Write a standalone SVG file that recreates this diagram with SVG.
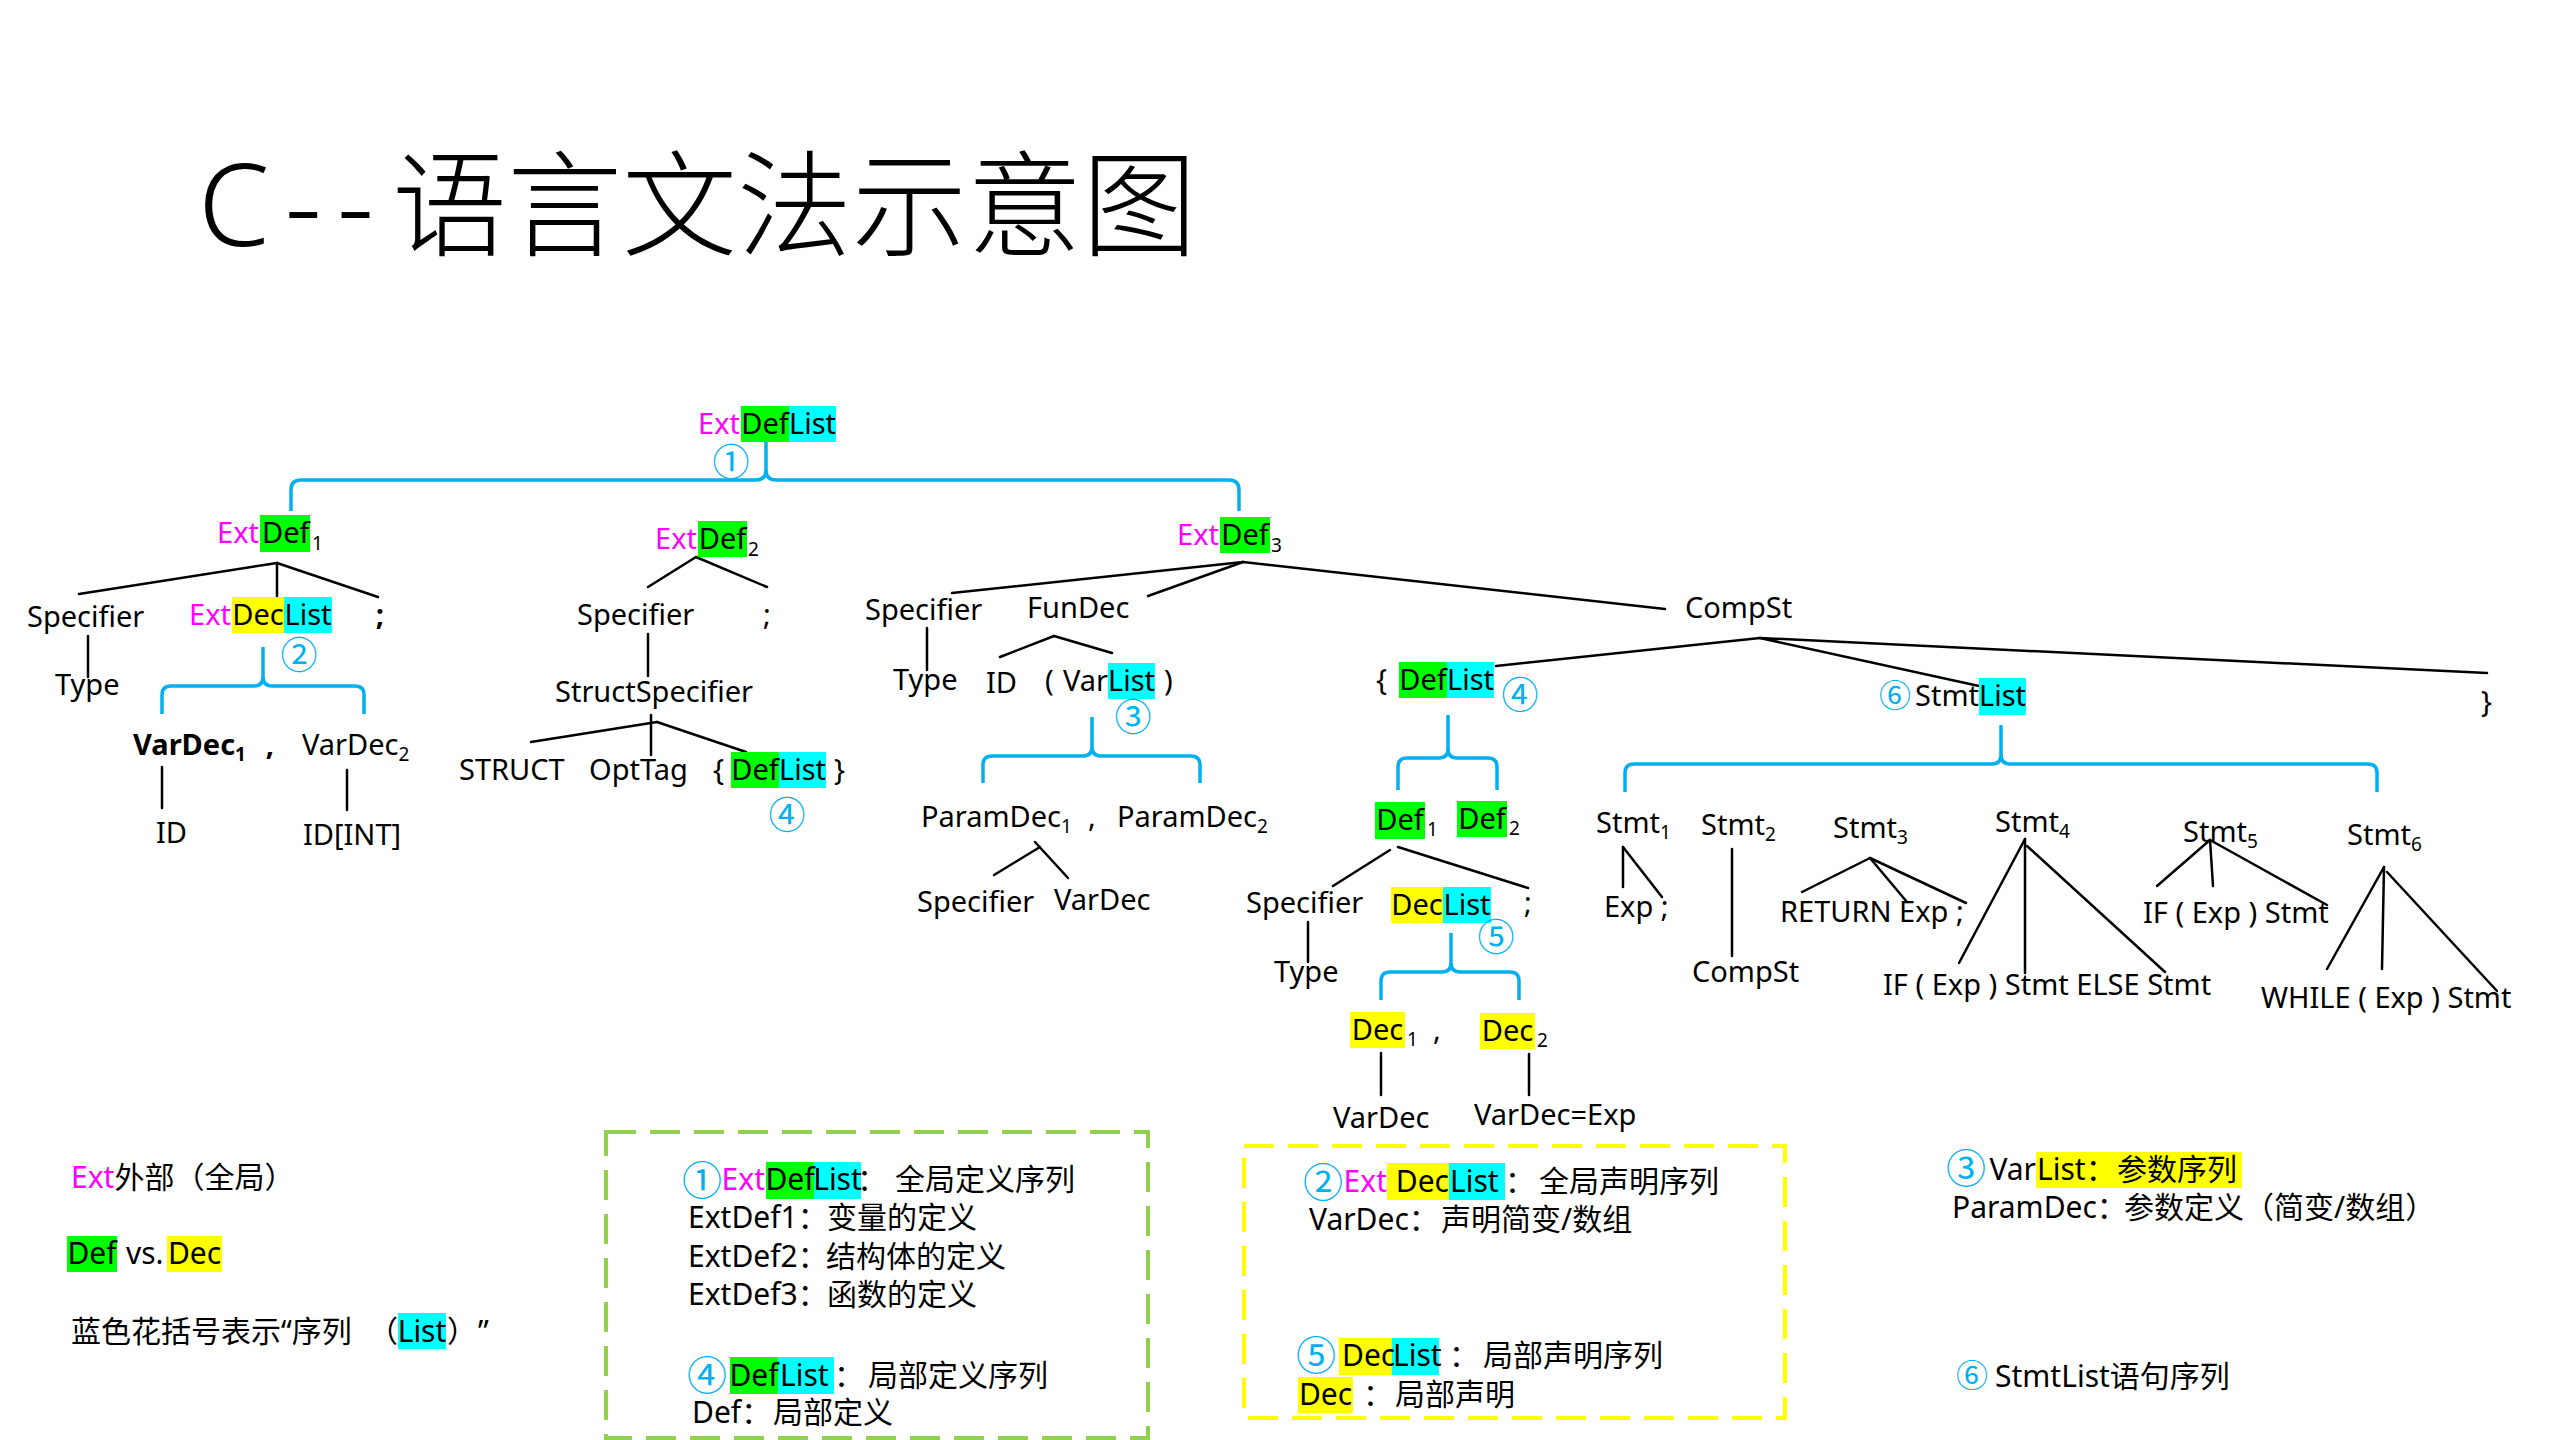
<svg xmlns="http://www.w3.org/2000/svg" width="2560" height="1440" viewBox="0 0 2560 1440">
  <style>
    .t { font-family: "Noto Sans", "Noto Sans CJK SC", sans-serif; font-size: 29px; fill: #000; }
    .lg { font-size: 30px; }
    .b { font-weight: bold; }
    .m { fill: #FF00FF; }
    .n { fill: #00B0F0; font-family: "Noto Sans CJK SC", sans-serif; font-size: 37px; text-anchor: middle; }
    .nl { font-size: 40px; }
    .n6 { font-size: 32px; }
    .s { font-size: 19px; }
    .mid { text-anchor: middle; }
    .end { text-anchor: end; }
    .hg { fill: #00FF00; }
    .hc { fill: #00FFFF; }
    .hy { fill: #FFFF00; }
    .ln line { stroke: #000; stroke-width: 2.5; stroke-linecap: round; }
    .br { fill: none; stroke: #00B0F0; stroke-width: 3.5; }
    .box { fill: none; stroke-width: 4; stroke-dasharray: 30 14; }
  </style>

  <rect width="2560" height="1440" fill="#FFFFFF"/>

  <!-- title -->
  <g id="title" font-family="'Noto Sans', 'Noto Sans CJK SC', sans-serif" font-weight="300" fill="#000">
    <text x="198" y="246" font-size="115" textLength="176" lengthAdjust="spacing">C--</text>
    <text x="392" y="247" font-size="115" font-family="'Noto Sans CJK SC', sans-serif">语言文法示意图</text>
  </g>

  <!-- connectors: tree edges and list braces -->
  <g id="connectors">
    <g class="ln">
      <!-- ExtDef1 -->
      <line x1="277" y1="563" x2="79" y2="594"/>
      <line x1="277" y1="563" x2="277" y2="597"/>
      <line x1="277" y1="563" x2="378" y2="597"/>
      <line x1="88" y1="636" x2="88" y2="677"/>
      <line x1="162" y1="767" x2="162" y2="808"/>
      <line x1="347" y1="770" x2="347" y2="810"/>
      <!-- ExtDef2 -->
      <line x1="696" y1="557" x2="648" y2="587"/>
      <line x1="696" y1="557" x2="767" y2="587"/>
      <line x1="648" y1="634" x2="648" y2="676"/>
      <line x1="651" y1="715" x2="651" y2="755"/>
      <line x1="657" y1="722" x2="531" y2="742"/>
      <line x1="657" y1="722" x2="746" y2="752"/>
      <!-- ExtDef3 -->
      <line x1="1243" y1="562" x2="952" y2="593"/>
      <line x1="1243" y1="562" x2="1148" y2="596"/>
      <line x1="1243" y1="562" x2="1665" y2="609"/>
      <line x1="927" y1="628" x2="927" y2="670"/>
      <line x1="1054" y1="636" x2="1000" y2="657"/>
      <line x1="1054" y1="636" x2="1112" y2="653"/>
      <line x1="994" y1="875" x2="1040" y2="847"/>
      <line x1="1035" y1="842" x2="1068" y2="878"/>
      <!-- CompSt -->
      <line x1="1760" y1="638" x2="1496" y2="666"/>
      <line x1="1760" y1="638" x2="1979" y2="686"/>
      <line x1="1760" y1="638" x2="2487" y2="673"/>
      <!-- Def1 -->
      <line x1="1390" y1="850" x2="1333" y2="886"/>
      <line x1="1398" y1="847" x2="1528" y2="888"/>
      <line x1="1308" y1="922" x2="1308" y2="962"/>
      <line x1="1381" y1="1053" x2="1381" y2="1095"/>
      <line x1="1529" y1="1054" x2="1529" y2="1095"/>
      <!-- Stmt1..Stmt6 -->
      <line x1="1623" y1="847" x2="1623" y2="887"/>
      <line x1="1623" y1="847" x2="1662" y2="897"/>
      <line x1="1732" y1="849" x2="1732" y2="956"/>
      <line x1="1870" y1="858" x2="1802" y2="892"/>
      <line x1="1870" y1="858" x2="1907" y2="902"/>
      <line x1="1870" y1="858" x2="1966" y2="903"/>
      <line x1="2025" y1="839" x2="1959" y2="963"/>
      <line x1="2025" y1="839" x2="2025" y2="973"/>
      <line x1="2027" y1="846" x2="2165" y2="972"/>
      <line x1="2210" y1="840" x2="2157" y2="886"/>
      <line x1="2210" y1="840" x2="2213" y2="886"/>
      <line x1="2210" y1="840" x2="2327" y2="905"/>
      <line x1="2384" y1="867" x2="2327" y2="969"/>
      <line x1="2384" y1="867" x2="2382" y2="969"/>
      <line x1="2387" y1="872" x2="2497" y2="991"/>
    </g>
    <!-- list braces -->
    <path class="br" d="M291,511 V490 Q291,480 301,480 H756 Q766,480 766,470 V442 M766,470 Q766,480 776,480 H1229 Q1239,480 1239,490 V511"/>
    <path class="br" d="M162,714 V695 Q162,686 171,686 H254 Q263,686 263,677 V647 M263,677 Q263,686 272,686 H355 Q364,686 364,695 V714"/>
    <path class="br" d="M983,783 V765 Q983,756 992,756 H1083 Q1092,756 1092,747 V717 M1092,747 Q1092,756 1101,756 H1191 Q1200,756 1200,765 V783"/>
    <path class="br" d="M1398,790 V767 Q1398,758 1407,758 H1439 Q1448,758 1448,749 V715 M1448,749 Q1448,758 1457,758 H1488 Q1497,758 1497,767 V790"/>
    <path class="br" d="M1381,1000 V981 Q1381,972 1390,972 H1442 Q1451,972 1451,963 V933 M1451,963 Q1451,972 1460,972 H1510 Q1519,972 1519,981 V1000"/>
    <path class="br" d="M1625,792 V773 Q1625,764 1634,764 H1992 Q2001,764 2001,755 V725 M2001,755 Q2001,764 2010,764 H2368 Q2377,764 2377,773 V792"/>
  </g>

  <!-- root -->
  <g id="n-extdeflist">
    <rect class="hg" x="741" y="406" width="48" height="36"/>
    <rect class="hc" x="789" y="406" width="47" height="36"/>
    <text class="t m end" x="740" y="434">Ext</text>
    <text class="t mid" x="765" y="434">Def</text>
    <text class="t mid" x="812.5" y="434">List</text>
    <text class="n" x="731" y="476">①</text>
  </g>

  <!-- ExtDef1: global variable -->
  <g id="n-extdef1">
    <rect class="hg" x="260" y="515" width="50" height="37"/>
    <text class="t m end" x="259" y="543">Ext</text>
    <text class="t" x="262" y="543">Def</text>
    <text class="t s" x="312" y="550">1</text>
  </g>
  <g id="n-spec1"><text class="t" x="27" y="627">Specifier</text></g>
  <g id="n-type1"><text class="t" x="55" y="695">Type</text></g>
  <g id="n-extdeclist">
    <rect class="hy" x="232" y="597" width="52" height="36"/>
    <rect class="hc" x="284" y="597" width="48" height="36"/>
    <text class="t m end" x="231" y="625">Ext</text>
    <text class="t mid" x="258" y="625">Dec</text>
    <text class="t mid" x="308" y="625">List</text>
    <text class="n" x="299" y="669">②</text>
  </g>
  <g id="n-semi1"><text class="t b mid" x="380" y="625">;</text></g>
  <g id="n-vardec1"><text class="t b" x="133" y="755">VarDec<tspan class="s" dy="6">1</tspan></text></g>
  <g id="n-comma1"><text class="t b mid" x="270" y="755">,</text></g>
  <g id="n-vardec2"><text class="t" x="302" y="755">VarDec<tspan class="s" dy="6">2</tspan></text></g>
  <g id="n-id1"><text class="t" x="156" y="843">ID</text></g>
  <g id="n-idint"><text class="t" x="303" y="845">ID[INT]</text></g>

  <!-- ExtDef2: struct definition -->
  <g id="n-extdef2">
    <rect class="hg" x="698" y="521" width="49" height="36"/>
    <text class="t m end" x="697" y="549">Ext</text>
    <text class="t mid" x="722.5" y="549">Def</text>
    <text class="t s" x="748" y="556">2</text>
  </g>
  <g id="n-spec2"><text class="t" x="577" y="625">Specifier</text></g>
  <g id="n-semi2"><text class="t mid" x="767" y="625">;</text></g>
  <g id="n-structspec"><text class="t" x="555" y="702">StructSpecifier</text></g>
  <g id="n-struct"><text class="t" x="459" y="780">STRUCT</text></g>
  <g id="n-opttag"><text class="t" x="589" y="780">OptTag</text></g>
  <g id="n-deflist1">
    <rect class="hg" x="731" y="752" width="48" height="36"/>
    <rect class="hc" x="779" y="752" width="47" height="36"/>
    <text class="t" x="713" y="780">{</text>
    <text class="t mid" x="755" y="780">Def</text>
    <text class="t mid" x="802.5" y="780">List</text>
    <text class="t" x="834" y="780">}</text>
    <text class="n" x="787" y="829">④</text>
  </g>

  <!-- ExtDef3: function definition -->
  <g id="n-extdef3">
    <rect class="hg" x="1220" y="517" width="50" height="36"/>
    <text class="t m end" x="1219" y="545">Ext</text>
    <text class="t mid" x="1245" y="545">Def</text>
    <text class="t s" x="1271" y="552">3</text>
  </g>
  <g id="n-spec3"><text class="t" x="865" y="620">Specifier</text></g>
  <g id="n-type3"><text class="t" x="893" y="690">Type</text></g>
  <g id="n-fundec"><text class="t" x="1027" y="618">FunDec</text></g>
  <g id="n-id3"><text class="t" x="986" y="693">ID</text></g>
  <g id="n-varlist">
    <rect class="hc" x="1108" y="663" width="47" height="36"/>
    <text class="t" x="1045" y="691">(</text>
    <text class="t end" x="1108" y="691">Var</text>
    <text class="t mid" x="1131.5" y="691">List</text>
    <text class="t" x="1164" y="691">)</text>
    <text class="n" x="1133" y="731">③</text>
  </g>
  <g id="n-paramdec1"><text class="t" x="921" y="827">ParamDec<tspan class="s" dy="6">1</tspan></text></g>
  <g id="n-comma3"><text class="t mid" x="1092" y="827">,</text></g>
  <g id="n-paramdec2"><text class="t" x="1117" y="827">ParamDec<tspan class="s" dy="6">2</tspan></text></g>
  <g id="n-spec4"><text class="t" x="917" y="912">Specifier</text></g>
  <g id="n-vardec3"><text class="t" x="1054" y="910">VarDec</text></g>

  <!-- CompSt -->
  <g id="n-compst"><text class="t" x="1685" y="618">CompSt</text></g>
  <g id="n-deflist2">
    <rect class="hg" x="1399" y="662" width="48" height="36"/>
    <rect class="hc" x="1447" y="662" width="47" height="36"/>
    <text class="t" x="1376" y="690">{</text>
    <text class="t mid" x="1423" y="690">Def</text>
    <text class="t mid" x="1470.5" y="690">List</text>
    <text class="n" x="1520" y="709">④</text>
  </g>
  <g id="n-stmtlist">
    <rect class="hc" x="1979" y="678" width="47" height="37"/>
    <text class="n n6" x="1895" y="707">⑥</text>
    <text class="t end" x="1979" y="706">Stmt</text>
    <text class="t mid" x="2002.5" y="706">List</text>
  </g>
  <g id="n-rbrace"><text class="t" x="2481" y="712">}</text></g>

  <g id="n-def1">
    <rect class="hg" x="1375" y="802" width="50" height="37"/>
    <text class="t mid" x="1400" y="830">Def</text>
    <text class="t s" x="1427" y="836">1</text>
  </g>
  <g id="n-def2">
    <rect class="hg" x="1457" y="801" width="50" height="36"/>
    <text class="t mid" x="1482" y="829">Def</text>
    <text class="t s" x="1509" y="835">2</text>
  </g>
  <g id="n-spec5"><text class="t" x="1246" y="913">Specifier</text></g>
  <g id="n-type5"><text class="t" x="1274" y="982">Type</text></g>
  <g id="n-declist">
    <rect class="hy" x="1391" y="887" width="52" height="36"/>
    <rect class="hc" x="1443" y="887" width="48" height="36"/>
    <text class="t mid" x="1417" y="915">Dec</text>
    <text class="t mid" x="1467" y="915">List</text>
    <text class="n" x="1496" y="951">⑤</text>
  </g>
  <g id="n-semi5"><text class="t mid" x="1528" y="913">;</text></g>
  <g id="n-dec1">
    <rect class="hy" x="1350" y="1012" width="55" height="36"/>
    <text class="t mid" x="1377.5" y="1040">Dec</text>
    <text class="t s" x="1407" y="1046">1</text>
  </g>
  <g id="n-comma5"><text class="t mid" x="1437" y="1040">,</text></g>
  <g id="n-dec2">
    <rect class="hy" x="1480" y="1013" width="55" height="36"/>
    <text class="t mid" x="1507.5" y="1041">Dec</text>
    <text class="t s" x="1537" y="1047">2</text>
  </g>
  <g id="n-vardec5"><text class="t" x="1333" y="1128">VarDec</text></g>
  <g id="n-vardecexp"><text class="t" x="1474" y="1125">VarDec=Exp</text></g>

  <!-- statements -->
  <g id="n-stmt1"><text class="t" x="1596" y="833">Stmt<tspan class="s" dy="6">1</tspan></text></g>
  <g id="n-stmt2"><text class="t" x="1701" y="835">Stmt<tspan class="s" dy="6">2</tspan></text></g>
  <g id="n-stmt3"><text class="t" x="1833" y="838">Stmt<tspan class="s" dy="6">3</tspan></text></g>
  <g id="n-stmt4"><text class="t" x="1995" y="832">Stmt<tspan class="s" dy="6">4</tspan></text></g>
  <g id="n-stmt5"><text class="t" x="2183" y="842">Stmt<tspan class="s" dy="6">5</tspan></text></g>
  <g id="n-stmt6"><text class="t" x="2347" y="845">Stmt<tspan class="s" dy="6">6</tspan></text></g>
  <g id="n-exp1"><text class="t" x="1604" y="917">Exp ;</text></g>
  <g id="n-compst2"><text class="t" x="1692" y="982">CompSt</text></g>
  <g id="n-return"><text class="t" x="1780" y="922">RETURN Exp ;</text></g>
  <g id="n-ifelse"><text class="t" x="1883" y="995">IF ( Exp ) Stmt ELSE Stmt</text></g>
  <g id="n-if"><text class="t" x="2143" y="923">IF ( Exp ) Stmt</text></g>
  <g id="n-while"><text class="t" x="2261" y="1008">WHILE ( Exp ) Stmt</text></g>

  <!-- legend: colour key -->
  <g id="legend-key">
    <text class="t lg" x="71" y="1188"><tspan class="m">Ext</tspan>外部（全局）</text>
    <rect class="hg" x="67" y="1236" width="50" height="36"/>
    <rect class="hy" x="167" y="1236" width="55" height="36"/>
    <text class="t lg mid" x="92" y="1264">Def</text>
    <text class="t lg" x="126" y="1264">vs.</text>
    <text class="t lg mid" x="194.5" y="1264">Dec</text>
    <rect class="hc" x="398" y="1313" width="48" height="36"/>
    <text class="t lg" x="71" y="1342">蓝色花括号表示“序列</text>
    <text class="t lg" x="368" y="1342">（</text>
    <text class="t lg mid" x="422" y="1342">List</text>
    <text class="t lg" x="447" y="1342">）</text>
    <text class="t lg" x="478" y="1342">”</text>
  </g>

  <!-- legend: definitions -->
  <g id="legend-def">
    <rect class="box" x="606" y="1132" width="542" height="306" stroke="#92D050"/>
    <rect class="hg" x="766" y="1162" width="48" height="37"/>
    <rect class="hc" x="814" y="1162" width="47" height="37"/>
    <text class="n nl" x="702" y="1195">①</text>
    <text class="t lg m end" x="765" y="1190">Ext</text>
    <text class="t lg mid" x="790" y="1190">Def</text>
    <text class="t lg mid" x="837.5" y="1190">List</text>
    <text class="t lg" x="857" y="1190">：</text>
    <text class="t lg" x="895" y="1190">全局定义序列</text>
    <text class="t lg" x="688" y="1228">ExtDef1：</text>
    <text class="t lg" x="827" y="1228">变量的定义</text>
    <text class="t lg" x="688" y="1267">ExtDef2：</text>
    <text class="t lg" x="826" y="1267">结构体的定义</text>
    <text class="t lg" x="688" y="1305">ExtDef3：</text>
    <text class="t lg" x="827" y="1305">函数的定义</text>
    <rect class="hg" x="730" y="1357" width="48" height="37"/>
    <rect class="hc" x="778" y="1357" width="56" height="37"/>
    <text class="n nl" x="707" y="1390">④</text>
    <text class="t lg mid" x="754" y="1386">Def</text>
    <text class="t lg" x="780" y="1386">List</text>
    <text class="t lg" x="834" y="1386">：</text>
    <text class="t lg" x="868" y="1386">局部定义序列</text>
    <text class="t lg" x="692" y="1423">Def：</text>
    <text class="t lg" x="773" y="1423">局部定义</text>
  </g>

  <!-- legend: declarations -->
  <g id="legend-dec">
    <rect class="box" x="1244" y="1146" width="541" height="272" stroke="#FFFF00"/>
    <rect class="hy" x="1387" y="1163" width="62" height="37"/>
    <rect class="hc" x="1449" y="1163" width="56" height="37"/>
    <text class="n nl" x="1323" y="1197">②</text>
    <text class="t lg m end" x="1387" y="1192">Ext</text>
    <text class="t lg end" x="1449" y="1192">Dec</text>
    <text class="t lg" x="1450" y="1192">List</text>
    <text class="t lg" x="1505" y="1192">：</text>
    <text class="t lg" x="1539" y="1192">全局声明序列</text>
    <text class="t lg" x="1309" y="1230">VarDec：</text>
    <text class="t lg" x="1441" y="1230">声明简变/数组</text>
    <rect class="hy" x="1339" y="1338" width="53" height="37"/>
    <rect class="hc" x="1392" y="1338" width="47" height="37"/>
    <text class="n nl" x="1316" y="1370">⑤</text>
    <text class="t lg" x="1342" y="1366">Dec</text>
    <text class="t lg" x="1393" y="1366">List</text>
    <text class="t lg" x="1449" y="1366">：</text>
    <text class="t lg" x="1483" y="1366">局部声明序列</text>
    <rect class="hy" x="1298" y="1377" width="55" height="36"/>
    <text class="t lg mid" x="1325.5" y="1405">Dec</text>
    <text class="t lg" x="1363" y="1405">：</text>
    <text class="t lg" x="1395" y="1405">局部声明</text>
  </g>

  <!-- legend: parameters and statements -->
  <g id="legend-param">
    <rect class="hy" x="2036" y="1152" width="206" height="36"/>
    <text class="n nl" x="1966" y="1183">③</text>
    <text class="t lg end" x="2036" y="1180">Var</text>
    <text class="t lg" x="2037" y="1180">List：</text>
    <text class="t lg" x="2117" y="1180">参数序列</text>
    <text class="t lg" x="1952" y="1218">ParamDec：</text>
    <text class="t lg" x="2124" y="1218">参数定义（简变/数组）</text>
  </g>
  <g id="legend-stmt">
    <text class="n n6" x="1972" y="1387">⑥</text>
    <text class="t lg" x="1995" y="1387">StmtList语句序列</text>
  </g>
</svg>
